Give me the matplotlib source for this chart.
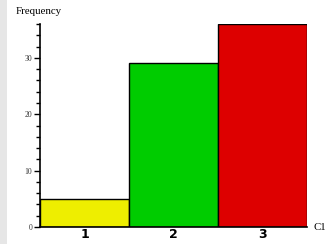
import matplotlib
matplotlib.use("Agg")
import matplotlib.pyplot as plt
from matplotlib.patches import Rectangle
from matplotlib.ticker import MultipleLocator

categories = ["1", "2", "3"]
counts = [5, 29, 36]
colors = ["#eeee00", "#00cc00", "#dd0000"]

fig = plt.figure(figsize=(3.3, 2.44), dpi=100)
# light grey strip along the left edge
fig.patches.append(Rectangle((0, 0), 7 / 330, 1, transform=fig.transFigure,
                             facecolor="#e6e6e6", edgecolor="none"))

ax = fig.add_axes([40 / 330, 1 - 227 / 244, 267 / 330, 203 / 244])
x = range(len(categories))
ax.bar(x, counts, width=1.0, color=colors, edgecolor="black", linewidth=1.0)

ax.set_xlim(-0.5, 2.5)
ax.set_ylim(0, 36)
ax.spines["top"].set_visible(False)
ax.spines["right"].set_visible(False)
ax.spines["left"].set_linewidth(1.2)
ax.spines["bottom"].set_linewidth(1.2)

ax.yaxis.set_major_locator(MultipleLocator(10))
ax.yaxis.set_minor_locator(MultipleLocator(2))
ax.tick_params(axis="y", which="major", length=4, width=1, labelsize=5.5,
               labelcolor="#333333", pad=1.5)
ax.tick_params(axis="y", which="minor", length=3, width=1)
for lab in ax.get_yticklabels():
    lab.set_fontfamily("Liberation Serif")

ax.set_xticks(list(x))
ax.set_xticklabels(categories, fontsize=9, fontweight="bold")
ax.tick_params(axis="x", length=0, pad=0.5)

fig.text(16 / 330, 1 - 12 / 244, "Frequency", fontsize=7.8, family="Liberation Serif",
         ha="left", va="center")
fig.text(313 / 330, 1 - 228 / 244, "C1", fontsize=7.8, family="Liberation Serif",
         ha="left", va="center")

fig.savefig("out.png", dpi=100)
